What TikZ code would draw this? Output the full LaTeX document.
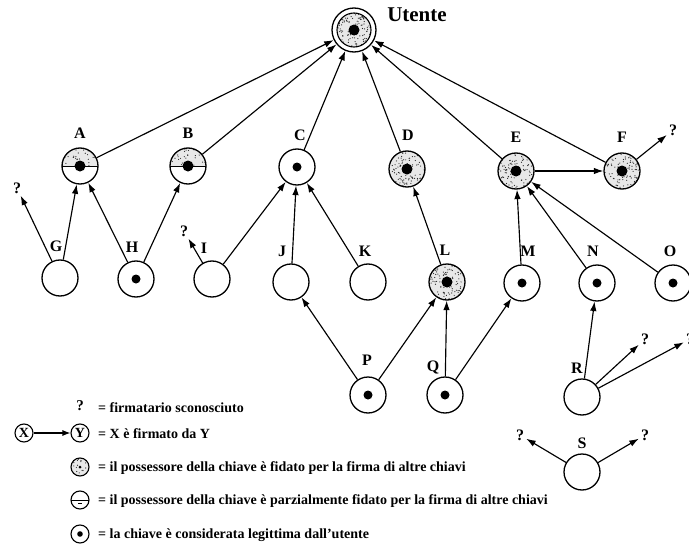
\documentclass[tikz,border=0pt]{standalone}
\usepackage{fontspec}
\setmainfont{Liberation Serif}
\usetikzlibrary{arrows.meta}
% random flecks filling a disc of radius #2 around the path picture centre
\newcommand\flecks[2]{%
  \fill[black!9] (path picture bounding box.center) circle (#2);
  \foreach \k in {1,...,#1}{%
    \pgfmathsetmacro\fa{360*rnd}%
    \pgfmathsetmacro\fr{sqrt(rnd)}%
    \fill[black!85] ([shift={(\fa:\fr*#2)}]path picture bounding box.center) circle (0.6pt);
  }}
\begin{document}
\begin{tikzpicture}[x=1pt,y=-1pt,
  key/.style={circle, draw, line width=1.3pt, minimum size=36pt, inner sep=0pt, fill=white},
  legit/.style={key, path picture={\fill[black] (path picture bounding box.center) circle (4.5pt);}},
  trusted/.style={key, path picture={\flecks{90}{18pt}\fill[black] (path picture bounding box.center) circle (5.5pt);}},
  partial/.style={key, path picture={%
      \begin{scope}\clip (path picture bounding box.north west) rectangle (path picture bounding box.east);
        \flecks{50}{18pt}\end{scope}
      \draw[black, line width=0.9pt] (path picture bounding box.west) -- (path picture bounding box.east);
      \fill[black] (path picture bounding box.center) circle (5.5pt);}},
  lbl/.style={font=\bfseries\fontsize{16}{16}\selectfont, inner sep=0pt},
  unk/.style={font=\bfseries\fontsize{16}{16}\selectfont, inner sep=2pt},
  sig/.style={line width=1.15pt, -{Latex[length=9.5pt,width=6.5pt]}},
  legtext/.style={font=\bfseries\fontsize{14}{14}\selectfont, anchor=west, inner sep=0pt},
  legkey/.style={circle, draw, line width=1.1pt, minimum size=18pt, inner sep=0pt, fill=white},
]
\useasboundingbox (0,0) rectangle (689,546);

% the user's own key
\node[key, minimum size=44pt, path picture={%
    \begin{scope}\clip (path picture bounding box.center) circle (17pt);
      \flecks{100}{17pt}\end{scope}
    \draw[black, line width=1.1pt] (path picture bounding box.center) circle (17pt);
    \fill[black] (path picture bounding box.center) circle (5.5pt);}] (U) at (354,30) {};
\node[lbl, font=\bfseries\fontsize{21}{21}\selectfont] (lU) at (417,15) {Utente};

% first level
\node[partial] (A) at (80,166) {};
\node[partial] (B) at (188,166) {};
\node[legit]   (C) at (297,167) {};
\node[trusted] (D) at (407,169) {};
\node[trusted] (E) at (516,171) {};
\node[trusted] (F) at (622,171) {};

% second level
\node[key]     (G) at (60,278) {};
\node[legit]   (H) at (136,279) {};
\node[key]     (I) at (212,279) {};
\node[key]     (J) at (291,282) {};
\node[key]     (K) at (368,282) {};
\node[trusted] (L) at (447,282) {};
\node[legit]   (M) at (522,283) {};
\node[legit]   (N) at (597,283) {};
\node[legit]   (O) at (673,283) {};

% third level
\node[legit] (P) at (368,395) {};
\node[legit] (Q) at (445,395) {};
\node[key]   (R) at (582,397) {};
\node[key]   (S) at (582,472) {};

% key names
\node[lbl] (lA) at (80,133) {A};
\node[lbl] (lB) at (188,133) {B};
\node[lbl] (lC) at (300,135) {C};
\node[lbl] (lD) at (408,135) {D};
\node[lbl] (lE) at (516,137) {E};
\node[lbl] (lF) at (622,137) {F};
\node[lbl] (lG) at (56,246) {G};
\node[lbl] (lH) at (132,247) {H};
\node[lbl] (lI) at (204,248) {I};
\node[lbl] (lJ) at (282,251) {J};
\node[lbl] (lK) at (365,251) {K};
\node[lbl] (lL) at (445,250) {L};
\node[lbl] (lM) at (528,251) {M};
\node[lbl] (lN) at (593,251) {N};
\node[lbl] (lO) at (670,251) {O};
\node[lbl] (lP) at (367,360) {P};
\node[lbl] (lQ) at (433,367) {Q};
\node[lbl] (lR) at (577,368) {R};
\node[lbl] (lS) at (582,443) {S};

% unknown signers
\node[unk] (qG)  at (17,188) {?};
\node[unk] (qI)  at (184,231) {?};
\node[unk] (qF)  at (673,130) {?};
\node[unk] (qR1) at (645,339) {?};
\node[unk] (qR2) at (690,339) {?};
\node[unk] (qS1) at (520,435) {?};
\node[unk] (qS2) at (645,435) {?};

% signatures
\foreach \k in {A,B,C,D,E,F} \draw[sig] (\k) -- (U);
\draw[sig] (G) -- (A);
\draw[sig] (H) -- (A);
\draw[sig] (H) -- (B);
\draw[sig] (I) -- (C);
\draw[sig] (J) -- (C);
\draw[sig] (K) -- (C);
\draw[sig] (L) -- (D);
\draw[sig] (M) -- (E);
\draw[sig] (N) -- (E);
\draw[sig] (O) -- (E);
\draw[sig] (E) -- (F);
\draw[sig] (P) -- (J);
\draw[sig] (P) -- (L);
\draw[sig] (Q) -- (L);
\draw[sig] (Q) -- (M);
\draw[sig] (R) -- (N);
\draw[sig] (G) -- (qG);
\draw[sig] (I) -- (qI);
\draw[sig] (F) -- (qF);
\draw[sig] (R) -- (qR1);
\draw[sig] (R) -- (qR2);
\draw[sig] (S) -- (qS1);
\draw[sig] (S) -- (qS2);

% legend
\node[unk, font=\bfseries\fontsize{15}{15}\selectfont] (kq) at (80,406) {?};
\node[legtext] (t1) at (98,408) {= firmatario sconosciuto};
\node[legkey, font=\bfseries\fontsize{14}{14}\selectfont] (X) at (24,433) {X};
\node[legkey, font=\bfseries\fontsize{14}{14}\selectfont] (Y) at (80,433) {Y};
\draw[line width=1.1pt, -{Latex[length=8pt,width=6pt]}] (X) -- (Y);
\node[legtext] (t2) at (98,434) {= X è firmato da Y};
\node[legkey, path picture={\flecks{18}{9pt}\fill[black] (path picture bounding box.center) circle (1.5pt);}] (k1) at (80,467) {};
\node[legtext] (t3) at (98,468) {= il possessore della chiave è fidato per la firma di altre chiavi};
\node[legkey, path picture={%
    \draw[black, line width=0.7pt] (path picture bounding box.west) -- (path picture bounding box.east);
    \draw[black, line width=0.6pt] ([shift={(-2pt,-3pt)}]path picture bounding box.center) -- ++(4pt,0pt);}] (k2) at (80,500) {};
\node[legtext] (t4) at (98,501) {= il possessore della chiave è parzialmente fidato per la firma di altre chiavi};
\node[legkey, path picture={\fill[black] (path picture bounding box.center) circle (2.8pt);}] (k3) at (80,534) {};
\node[legtext] (t5) at (98,535) {= la chiave è considerata legittima dall’utente};
\end{tikzpicture}
\end{document}
